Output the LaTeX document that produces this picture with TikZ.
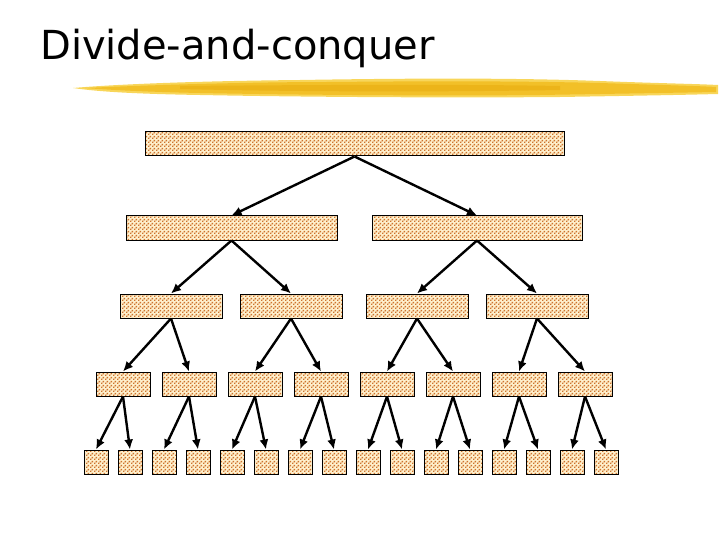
\documentclass[tikz,border=0pt]{standalone}
\usepackage{fontspec}
\setmainfont{DejaVu Sans}
\usetikzlibrary{patterns,arrows.meta}
\definecolor{boxbg}{RGB}{255,240,205}
\definecolor{boxdot}{RGB}{205,115,45}
\definecolor{brushA}{RGB}{242,192,40}
\definecolor{brushB}{RGB}{248,214,90}
\definecolor{brushC}{RGB}{236,180,25}
\pgfdeclarepatternformonly{brickdots}{\pgfpointorigin}{\pgfpoint{3.6pt}{3.6pt}}{\pgfpoint{3.6pt}{3.6pt}}{%
  \pgfpathrectangle{\pgfpoint{0pt}{0pt}}{\pgfpoint{1.6pt}{1.6pt}}%
  \pgfpathrectangle{\pgfpoint{1.8pt}{1.8pt}}{\pgfpoint{1.6pt}{1.6pt}}%
  \pgfusepath{fill}}
\tikzset{
  cell/.style={draw=black, line width=1pt, preaction={fill=boxbg}, pattern=brickdots, pattern color=boxdot, inner sep=0pt, minimum height=24pt},
  link/.style={line width=2.4pt, -{Latex[length=10pt,width=9pt]}},
}
\begin{document}
\begin{tikzpicture}[x=1pt,y=-1pt]
\useasboundingbox (0,0) rectangle (720,540);
% title
\node[anchor=base west, inner sep=0pt, font=\fontsize{40}{44}\selectfont] (title) at (40,60) {Divide-and-conquer};
% brush stroke
\fill[brushB] (73,88) .. controls (120,84) and (200,81) .. (300,80) .. controls (420,78) and (520,78) .. (600,81) .. controls (650,83) and (700,84) .. (718,85) -- (718,94) .. controls (680,95) and (620,96) .. (560,97) .. controls (450,98) and (300,97) .. (200,95) .. controls (140,94) and (100,92) .. (73,88) -- cycle;
\fill[brushA] (85,88) .. controls (150,85) and (250,82) .. (330,82) .. controls (430,81) and (520,81) .. (600,83) .. controls (660,85) and (700,86) .. (716,87) -- (716,92) .. controls (660,93) and (600,94) .. (540,95) .. controls (440,96) and (300,95) .. (200,93) .. controls (150,92) and (110,90) .. (85,88) -- cycle;
\fill[brushC] (180,86) .. controls (300,85) and (450,84) .. (560,86) -- (560,90) .. controls (450,92) and (300,92) .. (180,89) -- cycle;
% level 0
\node[cell, minimum width=419pt] (n0) at (354.5,144) {};
% level 1
\node[cell, minimum width=211pt] (n1a) at (231.5,228) {};
\node[cell, minimum width=210pt] (n1b) at (477,228) {};
% level 2
\foreach \i/\cx in {1/171,2/291,3/417,4/537}
  \node[cell, minimum width=102pt] (n2-\i) at (\cx,306) {};
% level 3
\foreach \i/\cx in {1/123,2/189,3/255,4/321,5/387,6/453,7/519,8/585}
  \node[cell, minimum width=54pt] (n3-\i) at (\cx,384) {};
% level 4
\foreach \i in {1,...,16}
  \node[cell, minimum width=24pt] (n4-\i) at ({96+34*(\i-1)},462) {};
% links
\draw[link] (n0.south) -- (n1a.north);
\draw[link] (n0.south) -- (n1b.north);
\draw[link] (n1a.south) -- (n2-1.north);
\draw[link] (n1a.south) -- (n2-2.north);
\draw[link] (n1b.south) -- (n2-3.north);
\draw[link] (n1b.south) -- (n2-4.north);
\foreach \p [evaluate=\p as \ca using int(2*\p-1), evaluate=\p as \cb using int(2*\p)] in {1,...,4} {
  \draw[link] (n2-\p.south) -- (n3-\ca.north);
  \draw[link] (n2-\p.south) -- (n3-\cb.north);
}
\foreach \p [evaluate=\p as \ca using int(2*\p-1), evaluate=\p as \cb using int(2*\p)] in {1,...,8} {
  \draw[link] (n3-\p.south) -- (n4-\ca.north);
  \draw[link] (n3-\p.south) -- (n4-\cb.north);
}
\end{tikzpicture}
\end{document}
